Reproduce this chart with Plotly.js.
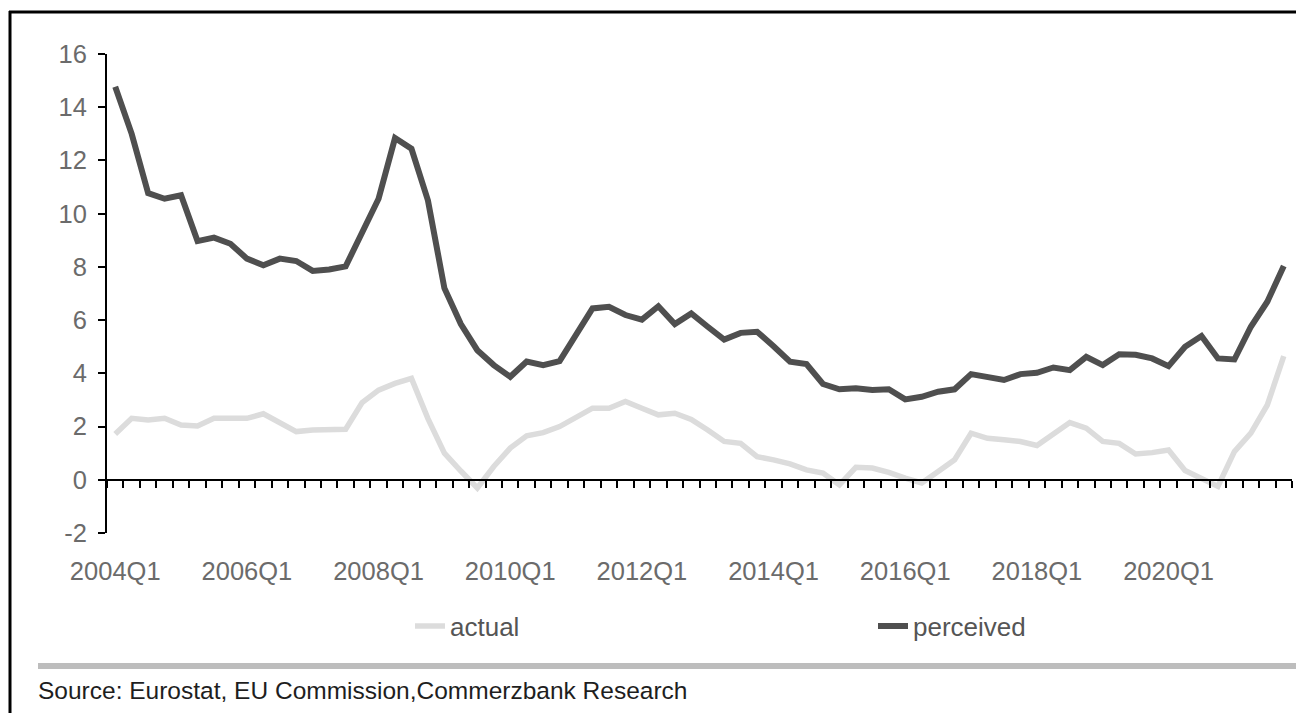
<!DOCTYPE html>
<html>
<head>
<meta charset="utf-8">
<script src="https://cdn.plot.ly/plotly-3.0.1.min.js"></script>
<style>
html,body{margin:0;padding:0;background:#fff;}
#chart{width:1296px;height:713px;}
</style>
</head>
<body>
<div id="chart"></div>
<script>
// Categories: quarters 2004Q1 .. 2021Q4
const years = [2004,2005,2006,2007,2008,2009,2010,2011,2012,2013,2014,2015,2016,2017,2018,2019,2020,2021];
const quarterNames = ["Q1","Q2","Q3","Q4"];
const quarters = [];
years.forEach(y => quarterNames.forEach(q => quarters.push(y + q)));

// Series values (%)
const actual = [1.72,2.31,2.25,2.31,2.06,2.02,2.31,2.31,2.31,2.48,
                2.15,1.81,1.87,1.9,1.9,2.9,3.37,3.62,3.81,2.3,
                1.0,0.33,-0.31,0.5,1.19,1.65,1.77,2.0,2.37,2.69,
                2.69,2.94,2.69,2.44,2.5,2.27,1.87,1.44,1.37,0.87,
                0.75,0.6,0.37,0.25,-0.19,0.47,0.44,0.28,0.06,-0.12,
                0.31,0.75,1.75,1.56,1.5,1.44,1.29,1.75,2.15,1.94,
                1.44,1.37,0.97,1.02,1.12,0.35,0.03,-0.25,1.06,1.75,
                2.81,4.65];
const perceived = [14.77,13.0,10.77,10.56,10.69,8.97,9.1,8.87,8.31,8.06,
                   8.31,8.22,7.85,7.9,8.02,9.25,10.56,12.84,12.44,10.5,
                   7.2,5.85,4.87,4.31,3.87,4.44,4.31,4.46,5.44,6.44,
                   6.5,6.19,6.02,6.52,5.85,6.25,5.75,5.27,5.52,5.56,
                   5.02,4.44,4.35,3.6,3.4,3.44,3.37,3.4,3.02,3.12,
                   3.31,3.4,3.97,3.84,3.75,3.97,4.02,4.22,4.12,4.62,
                   4.31,4.72,4.7,4.56,4.27,5.0,5.4,4.56,4.52,5.75,
                   6.69,8.03];

// Tick labels
const tickLabels = ["2004Q1","2006Q1","2008Q1","2010Q1","2012Q1","2014Q1","2016Q1","2018Q1","2020Q1"];
const yTicks = [-2,0,2,4,6,8,10,12,14,16];
const yTickLabels = ["-2","0","2","4","6","8","10","12","14","16"];

const idx = quarters.map((q, i) => i);
const tickVals = tickLabels.map(l => quarters.indexOf(l));

const W = 1296, H = 713;
const M = {l:107, r:4, t:54, b:180};
const PW = W - M.l - M.r, PH = H - M.t - M.b;
const px2x = p => (p - M.l) / PW;
const py2y = p => (H - M.b - p) / PH;

const font = "Liberation Sans, Arial, sans-serif";

const traces = [
  {
    x: idx, y: actual, type: 'scatter', mode: 'lines', name: 'actual',
    text: quarters, hovertemplate: '%{text}: %{y}<extra></extra>',
    line: {color: '#dcdcdc', width: 5.5}, legend: 'legend'
  },
  {
    x: idx, y: perceived, type: 'scatter', mode: 'lines', name: 'perceived',
    text: quarters, hovertemplate: '%{text}: %{y}<extra></extra>',
    line: {color: '#4f4f4f', width: 6}, legend: 'legend2'
  }
];

const layout = {
  width: W, height: H,
  margin: M,
  paper_bgcolor: '#ffffff', plot_bgcolor: 'rgba(0,0,0,0)',
  font: {family: font, size: 25, color: '#6b6b6b'},
  showlegend: true,
  xaxis: {
    type: 'linear', range: [-0.5, quarters.length - 0.5],
    anchor: 'free', position: 2/18,
    showline: true, linecolor: '#000', linewidth: 2.5,
    showgrid: false, zeroline: false,
    tickmode: 'array', tickvals: tickVals, ticktext: tickLabels,
    ticks: '', ticklabelstandoff: 68,
    tickfont: {family: font, size: 25.5, color: '#6b6b6b'},
    minor: {ticks: 'outside', tick0: -0.5, dtick: 1, ticklen: 7, tickwidth: 2, tickcolor: '#000', showgrid: false},
    fixedrange: true
  },
  yaxis: {
    range: [-2, 16], tickmode: 'array', tickvals: yTicks, ticktext: yTickLabels,
    showline: true, linecolor: '#000', linewidth: 2,
    ticks: 'outside', ticklen: 7, tickwidth: 2, tickcolor: '#000',
    ticklabelstandoff: 6,
    showgrid: false, zeroline: false,
    tickfont: {family: font, size: 25.5, color: '#6b6b6b'},
    fixedrange: true
  },
  legend: {
    orientation: 'h', x: px2x(410), xanchor: 'left', y: py2y(626), yanchor: 'middle',
    font: {family: font, size: 26, color: '#555555'}, bgcolor: 'rgba(0,0,0,0)'
  },
  legend2: {
    orientation: 'h', x: px2x(873), xanchor: 'left', y: py2y(626), yanchor: 'middle',
    font: {family: font, size: 26, color: '#555555'}, bgcolor: 'rgba(0,0,0,0)'
  },
  shapes: [
    {type: 'line', xref: 'paper', yref: 'paper', x0: px2x(10), x1: px2x(10), y0: py2y(11), y1: py2y(713), line: {color: '#000', width: 3}},
    {type: 'line', xref: 'paper', yref: 'paper', x0: px2x(9), x1: px2x(1296), y0: py2y(12), y1: py2y(12), line: {color: '#000', width: 3}},
    {type: 'line', xref: 'paper', yref: 'paper', x0: px2x(38), x1: px2x(1296), y0: py2y(666), y1: py2y(666), line: {color: '#bdbdbd', width: 6}}
  ],
  annotations: [
    {text: 'Source: Eurostat, EU Commission,Commerzbank Research', xref: 'paper', yref: 'paper',
     x: px2x(36), y: py2y(690), xanchor: 'left', yanchor: 'middle', showarrow: false,
     font: {family: font, size: 24.5, color: '#1e1e1e'}}
  ]
};

Plotly.newPlot('chart', traces, layout, {displayModeBar: false, staticPlot: true});
</script>
</body>
</html>
